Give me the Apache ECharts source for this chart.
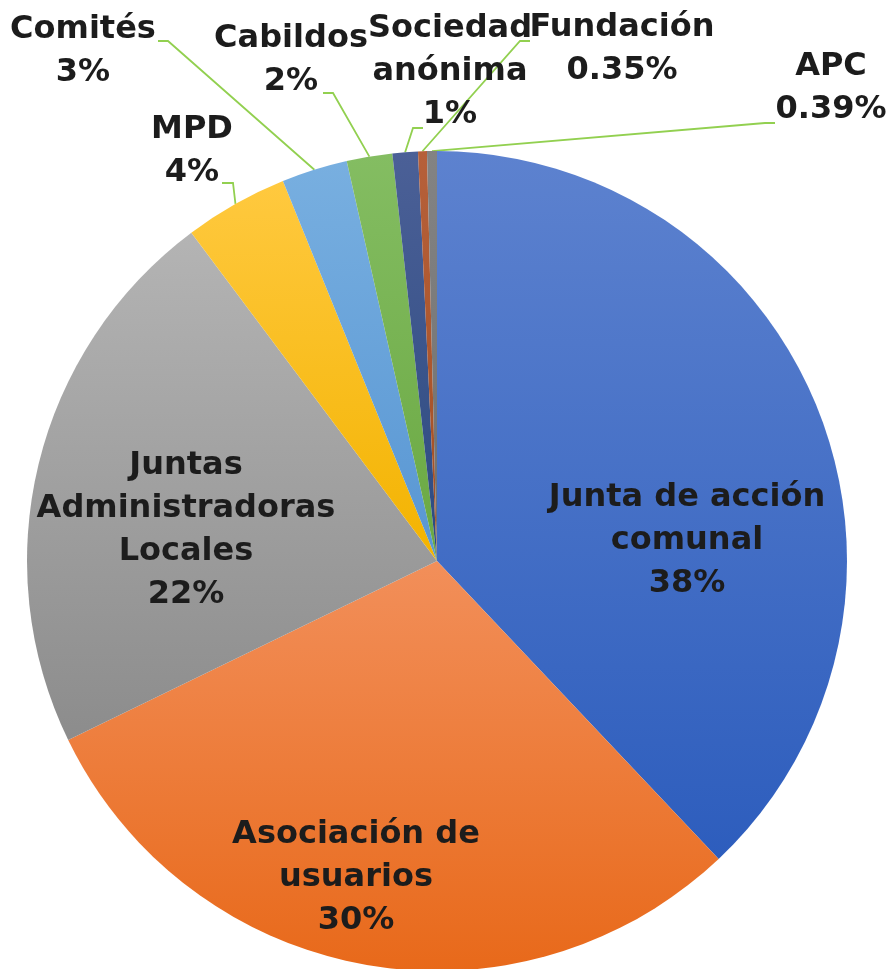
<!DOCTYPE html>
<html><head><meta charset="utf-8">
<script src="https://cdn.jsdelivr.net/npm/echarts@6/dist/echarts.min.js"></script>
<style>html,body{margin:0;padding:0;background:#fff}#c{width:892px;height:969px}</style>
</head><body><div id="c"></div>
<script>
// ---- data ----
const categories = ["Junta de acción\ncomunal", "Asociación de\nusuarios", "Juntas\nAdministradoras\nLocales", "MPD", "Comités", "Cabildos", "Sociedad\nanónima", "Fundación", "APC"];
const percentValues = [38.0, 29.9, 22.0, 4.1, 2.6, 1.8, 1.0, 0.35, 0.39];

// ---- style (not data) ----
const sliceColors = [
  ["#5d82cf", "#2d5dbd"],
  ["#f28f5a", "#e8691a"],
  ["#b4b4b4", "#8c8c8c"],
  ["#ffc93f", "#f3b300"],
  ["#78afe0", "#5896d3"],
  ["#84bd62", "#6aa842"],
  ["#4b6097", "#2c4a80"],
  ["#b6603a", "#a24e22"],
  ["#838383", "#6f6f6f"]
];
// label anchor centres and leader elbows
const labelPlace = [
  {x: 687, y: 541},
  {x: 356, y: 878},
  {x: 186, y: 530},
  {x: 192, y: 151, line: [[233, 183], [222, 183]]},
  {x: 83,  y: 51,  line: [[168, 41], [158, 41]]},
  {x: 291, y: 60,  line: [[333, 93], [323, 93]]},
  {x: 450, y: 72,  line: [[413, 128], [423, 128]]},
  {x: 622, y: 49,  line: [[520, 41], [530, 41]]},
  {x: 831, y: 88,  line: [[765, 123], [775, 123]]}
];

function fmtPct(v) { return v >= 1 ? Math.round(v) + '%' : v.toFixed(2) + '%'; }

const chart = echarts.init(document.getElementById('c'), null, {renderer: 'canvas'});
const seriesData = categories.map((name, i) => {
  const outside = !!labelPlace[i].line;
  return {
    name: name,
    value: percentValues[i],
    itemStyle: {
      color: new echarts.graphic.LinearGradient(0, 0, 0, 1, [
        {offset: 0, color: sliceColors[i][0]},
        {offset: 1, color: sliceColors[i][1]}
      ])
    },
    label: {position: outside ? 'outside' : 'inside'},
    labelLine: {show: outside}
  };
});

chart.setOption({
  animation: false,
  series: [{
    type: 'pie',
    center: [437, 561],
    radius: [0, 410],
    startAngle: 90,
    clockwise: true,
    avoidLabelOverlap: false,
    itemStyle: {borderWidth: 0},
    label: {
      show: true,
      formatter: p => p.name + '\n' + fmtPct(p.value),
      fontFamily: 'DejaVu Sans',
      fontWeight: 'bold',
      fontSize: 32,
      lineHeight: 43,
      color: '#1c1c1c',
      align: 'center'
    },
    labelLine: {
      show: true,
      length: 10,
      length2: 10,
      lineStyle: {color: '#92d050', width: 1.8}
    },
    labelLayout: function (params) {
      const i = params.dataIndex;
      const pl = labelPlace[i];
      const out = {x: pl.x, y: pl.y, align: 'center', verticalAlign: 'middle'};
      if (pl.line && params.labelLinePoints) {
        const p0 = params.labelLinePoints[0];
        out.labelLinePoints = [p0, pl.line[0], pl.line[1]];
      }
      return out;
    },
    data: seriesData
  }]
});
</script></body></html>
